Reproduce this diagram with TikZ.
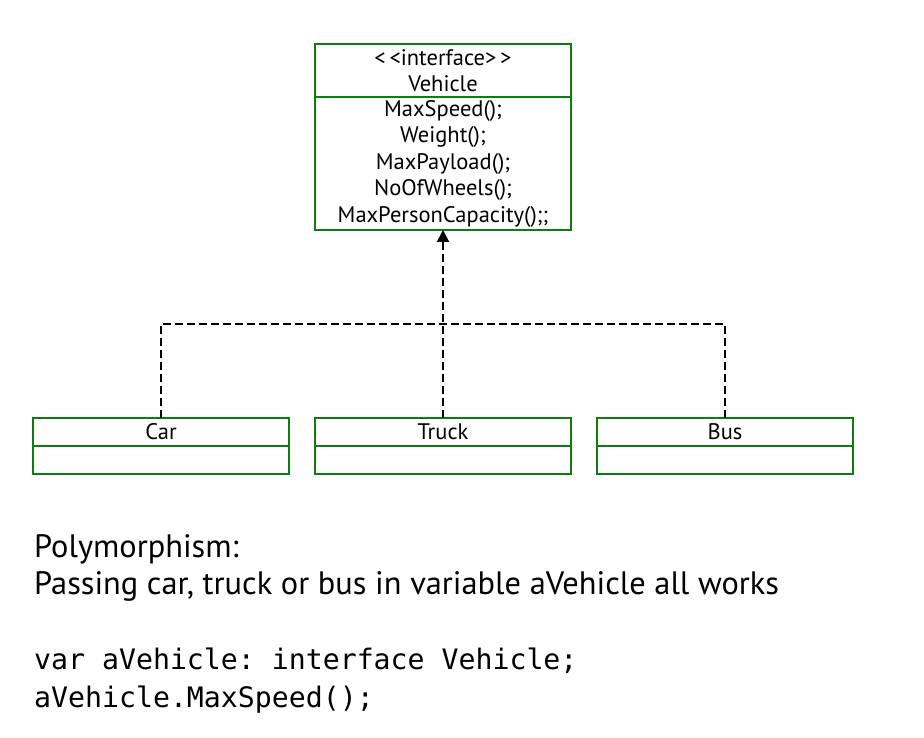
\documentclass[tikz,border=0pt]{standalone}
\usepackage{fontspec}
\setmainfont{PT Sans}
\setmonofont{DejaVu Sans Mono}
\usetikzlibrary{arrows.meta,positioning}
\definecolor{umlgreen}{RGB}{16,124,16}

\begin{document}
\begin{tikzpicture}[
  x=1pt,y=-1pt,
  classbox/.style={draw=umlgreen,line width=2pt,outer sep=0pt,inner sep=0pt,
                   minimum width=256pt,align=center,font=\fontsize{22.5}{26.5}\selectfont},
  realizes/.style={line width=2pt,dash pattern=on 8pt off 4pt},
  notetext/.style={anchor=base west,inner sep=0pt,font=\fontsize{32.4}{37}\selectfont},
  codetext/.style={anchor=base west,inner sep=0pt,font=\fontsize{28.2}{38}\ttfamily}
]
\useasboundingbox (0,0) rectangle (924,738);

% Interface
\node[classbox,minimum height=53pt] (vehiclehead) at (443,70.5)
  {<\,<interface>\,>\\Vehicle};
\node[classbox,minimum height=133pt,below=0pt of vehiclehead] (vehiclebody)
  {MaxSpeed();\\Weight();\\MaxPayload();\\NoOfWheels();\\MaxPersonCapacity();;};

% Implementing classes
\node[classbox,minimum height=28pt] (carname) at (161,432) {Car};
\node[classbox,minimum height=28pt,below=0pt of carname] (carbody) {};
\node[classbox,minimum height=28pt] (truckname) at (443,432) {Truck};
\node[classbox,minimum height=28pt,below=0pt of truckname] (truckbody) {};
\node[classbox,minimum height=28pt] (busname) at (725,432) {Bus};
\node[classbox,minimum height=28pt,below=0pt of busname] (busbody) {};

% Realization
\coordinate (join) at (443,324);
\draw[realizes] (carname.north) |- (join);
\draw[realizes] (busname.north) |- (join);
\draw[realizes,-{Triangle[length=12pt,width=12pt]}] (truckname.north) -- (vehiclebody.south);

% Notes
\node[notetext] (notetitle) at (34,557) {Polymorphism:};
\node[notetext] (notebody) at (34,594)
  {Passing car, truck or bus in variable aVehicle all works};
\node[codetext] (codedecl) at (34,669) {var aVehicle: interface Vehicle;};
\node[codetext] (codecall) at (34,707) {aVehicle.MaxSpeed();};
\end{tikzpicture}
\end{document}
